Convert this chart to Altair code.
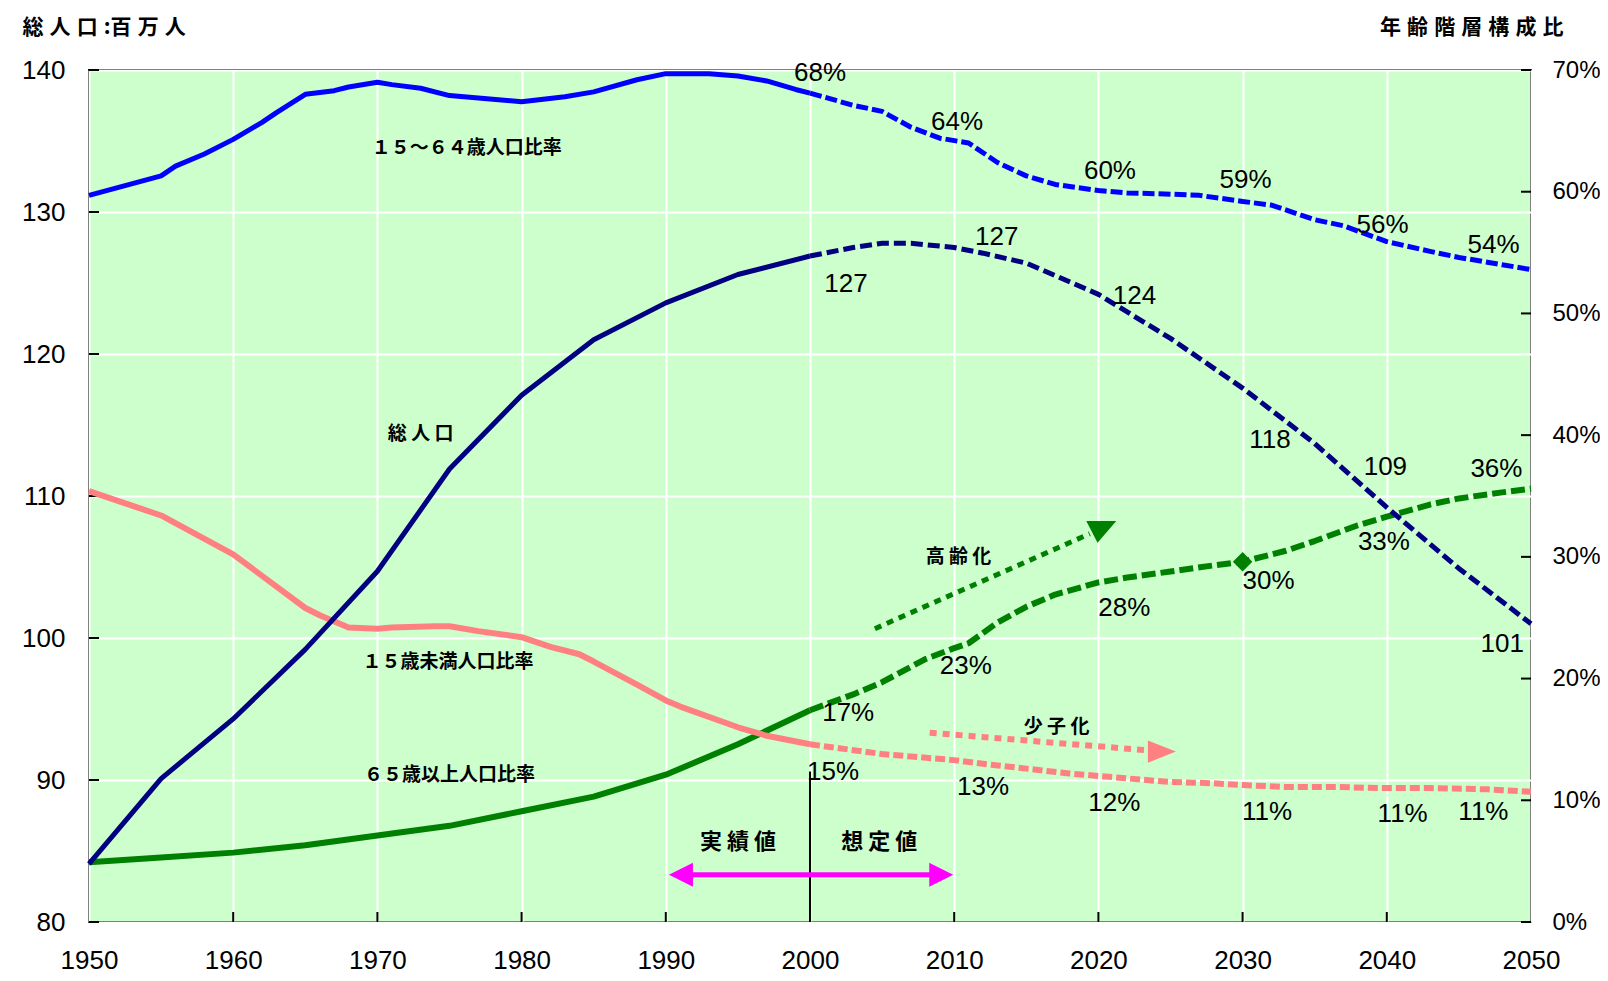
import altair as alt
import pandas as pd

# ---------------- data ----------------
# total population (millions) – actual
pop_act_years = [1950, 1955, 1960, 1965, 1970, 1975, 1980, 1985, 1990, 1995, 2000]
pop_act = [84.1, 90.1, 94.3, 99.2, 104.7, 111.9, 117.1, 121.0, 123.6, 125.6, 126.9]
# total population – projection
pop_proj_years = [2000, 2003, 2005, 2007, 2010, 2012, 2015, 2020, 2025, 2030, 2035, 2040, 2045, 2050]
pop_proj = [126.9, 127.5, 127.8, 127.8, 127.5, 127.1, 126.4, 124.2, 121.1, 117.6, 113.7, 109.2, 104.9, 101.0]

# 15-64 share (%)
wk_act_years = [1950, 1955, 1956, 1958, 1960, 1962, 1963, 1965, 1967, 1968, 1970, 1971, 1973, 1975,
                1977, 1978, 1980, 1983, 1985, 1988, 1990, 1993, 1995, 1997, 1999, 2000]
wk_act = [59.7, 61.3, 62.1, 63.1, 64.3, 65.7, 66.5, 68.0, 68.3, 68.6, 69.0, 68.8, 68.5, 67.9,
          67.7, 67.6, 67.4, 67.8, 68.2, 69.2, 69.7, 69.7, 69.5, 69.1, 68.4, 68.1]
wk_proj_years = [2000, 2003, 2005, 2007, 2009, 2011, 2013, 2015, 2017, 2020, 2022, 2025, 2027, 2030,
                 2032, 2035, 2037, 2040, 2043, 2045, 2048, 2050]
wk_proj = [68.1, 67.1, 66.6, 65.3, 64.4, 64.0, 62.4, 61.3, 60.6, 60.1, 59.9, 59.8, 59.7, 59.2,
           58.9, 57.7, 57.2, 55.9, 55.1, 54.6, 54.0, 53.6]

# under-15 share (%)
ch_act_years = [1950, 1955, 1960, 1965, 1966, 1968, 1970, 1971, 1974, 1975, 1977, 1980, 1982, 1984,
                1985, 1988, 1990, 1991, 1995, 1997, 2000]
ch_act = [35.4, 33.4, 30.2, 25.8, 25.2, 24.2, 24.1, 24.2, 24.3, 24.3, 23.9, 23.4, 22.6, 22.0,
          21.4, 19.5, 18.2, 17.7, 16.0, 15.3, 14.6]
ch_proj_years = [2000, 2005, 2010, 2012, 2015, 2018, 2020, 2023, 2025, 2028, 2030, 2033, 2036, 2040,
                 2043, 2047, 2050]
ch_proj = [14.6, 13.8, 13.3, 13.0, 12.6, 12.2, 12.0, 11.7, 11.5, 11.4, 11.25, 11.1, 11.1, 11.0,
           11.0, 10.9, 10.7]

# 65+ share (%)
old_act_years = [1950, 1955, 1960, 1965, 1970, 1975, 1980, 1985, 1990, 1995, 2000]
old_act = [4.9, 5.3, 5.7, 6.3, 7.1, 7.9, 9.1, 10.3, 12.1, 14.6, 17.4]
old_proj_years = [2000, 2003, 2005, 2008, 2010, 2011, 2013, 2015, 2017, 2020, 2022, 2025, 2028, 2030,
                  2033, 2035, 2038, 2040, 2043, 2045, 2048, 2050]
old_proj = [17.4, 18.7, 19.7, 21.6, 22.5, 22.9, 24.6, 25.9, 26.9, 27.9, 28.3, 28.8, 29.3, 29.6,
            30.5, 31.3, 32.6, 33.3, 34.3, 34.8, 35.3, 35.6]
diamond_year = [2030]
diamond_val = [29.6]

# value labels – total population (left axis)
lt_years = [2002.5, 2012.95, 2022.5, 2031.9, 2039.9, 2048.0]
lt_vals = [124.93, 128.26, 124.1, 113.94, 112.06, 99.6]
lt_text = ["127", "127", "124", "118", "109", "101"]

# value labels – percentages (right axis)
rt_years = [2000.7, 2010.2, 2020.8, 2030.2, 2039.7, 2047.4,
            2002.65, 2010.8, 2021.8, 2031.8, 2039.8, 2047.6,
            2001.6, 2012.0, 2021.1, 2031.7, 2041.1, 2046.7]
rt_vals = [69.75, 65.7, 61.7, 61.0, 57.3, 55.6,
           17.2, 21.0, 25.8, 28.0, 31.2, 37.2,
           12.3, 11.1, 9.8, 9.0, 8.9, 9.0]
rt_text = ["68%", "64%", "60%", "59%", "56%", "54%",
           "17%", "23%", "28%", "30%", "33%", "36%",
           "15%", "13%", "12%", "11%", "11%", "11%"]

# series names (right axis)
rn_years = [1976.2, 1974.9, 1975.0, 2010.3, 2017.1]
rn_vals = [63.6, 21.4, 12.05, 29.95, 16.05]
rn_text = ["１５～６４歳人口比率", "１５歳未満人口比率", "６５歳以上人口比率", "高 齢 化", "少 子 化"]

# names on left axis
ln_years = [1973.0, 1995.0, 2004.8]
ln_vals = [114.4, 85.65, 85.65]
ln_text = ["総 人 口", "実 績 値", "想 定 値"]
ln_size = [19, 22, 22]

# arrows
aging_years = [2004.5, 2019.4]
aging_vals = [24.1, 31.9]
aging_head = (2020.2, 32.05)
child_years = [2008.3, 2023.5]
child_vals = [15.55, 14.1]
child_head = (2024.4, 14.0)
span_years = [1991.05, 2009.1]
span_val = 83.33
divider_year = 2000
divider_vals = [90.6, 80]

x_ticks = list(range(1950, 2051, 10))
left_ticks = [80, 90, 100, 110, 120, 130, 140]
right_ticks = [0, 10, 20, 30, 40, 50, 60, 70]

# ---------------- chart ----------------
W, H = 1442, 852
NUM_FONT = "Liberation Sans"
CJK_FONT = "Noto Sans CJK JP"
BLUE, NAVY, PINK, GREEN, MAG = "#0000FF", "#000080", "#FF8080", "#008000", "#FF00FF"
SP = " \u200a"   # wide letter gap for titles

x_axis = alt.Axis(values=x_ticks, format="d", labelFont=NUM_FONT, labelFontSize=26,
                  labelColor="black", labelPadding=25, labelFlush=False, labelOverlap=False,
                  grid=True, gridColor="white", gridWidth=2, gridOpacity=1,
                  ticks=False, domain=False, title=None)
yL_axis = alt.Axis(values=left_ticks, orient="left", labelFont=NUM_FONT, labelFontSize=26,
                   labelColor="black", labelPadding=24, labelOverlap=False,
                   grid=True, gridColor="white", gridWidth=2, gridOpacity=1,
                   ticks=False, domain=False,
                   title=SP.join(["総", "人", "口", ":百", "万", "人"]), titleAngle=0,
                   titleAlign="left", titleBaseline="middle", titleX=-67, titleY=-43,
                   titleFont=CJK_FONT, titleFontSize=21, titleFontWeight="bold",
                   titleColor="black")
yR_axis = alt.Axis(values=right_ticks, orient="right", labelExpr="datum.value + '%'",
                   labelFont=NUM_FONT, labelFontSize=24, labelColor="black", labelPadding=21,
                   labelOverlap=False, grid=False, ticks=False, domain=False,
                   title=SP.join(list("年齢階層構成比")), titleAngle=0, titleAlign="right",
                   titleBaseline="middle", titleX=32, titleY=-43, titleFont=CJK_FONT,
                   titleFontSize=21, titleFontWeight="bold", titleColor="black")


def xs():
    return alt.Scale(domain=[1950, 2050], nice=False, zero=False)


def ysL():
    return alt.Scale(domain=[80, 140], nice=False, zero=False)


def ysR():
    return alt.Scale(domain=[0, 70], nice=False, zero=False)


def X():
    return alt.X("year:Q", scale=xs(), axis=x_axis)


def Y(scale):
    return alt.Y("v:Q", scale=scale(), axis=None)


def line(years, vals, color, width, scale, dash=None):
    df = pd.DataFrame({"year": years, "v": vals})
    props = dict(color=color, strokeWidth=width, strokeCap="butt", strokeJoin="round")
    if dash is not None:
        props["strokeDash"] = dash
    return alt.Chart(df).mark_line(**props).encode(x=X(), y=Y(scale))


def point(x, y, scale, shape, size, color):
    df = pd.DataFrame({"year": [x], "v": [y]})
    return alt.Chart(df).mark_point(shape=shape, size=size, filled=True, color=color,
                                    opacity=1, strokeWidth=0).encode(x=X(), y=Y(scale))


def texts(years, vals, labels, scale, font, size, weight="normal"):
    df = pd.DataFrame({"year": years, "v": vals, "t": labels})
    return alt.Chart(df).mark_text(font=font, fontSize=size, fontWeight=weight, color="black",
                                   align="center", baseline="middle").encode(
        x=X(), y=Y(scale), text="t:N")


# axes carriers + inward tick marks
bottom_ticks = alt.Chart(pd.DataFrame({"year": x_ticks[1:-1]})).mark_rule(
    color="black", strokeWidth=2).encode(
    x=X(), y=alt.value(H), y2=alt.value(H - 10))
left_tick_marks = alt.Chart(pd.DataFrame({"v": left_ticks})).mark_rule(
    color="black", strokeWidth=2).encode(
    y=alt.Y("v:Q", scale=ysL(), axis=yL_axis), x=alt.value(0), x2=alt.value(10))
right_tick_marks = alt.Chart(pd.DataFrame({"v": right_ticks})).mark_rule(
    color="black", strokeWidth=2).encode(
    y=alt.Y("v:Q", scale=ysR(), axis=yR_axis), x=alt.value(W - 10), x2=alt.value(W))

divider = alt.Chart(pd.DataFrame({"year": [divider_year], "v": [divider_vals[0]],
                                  "v2": [divider_vals[1]]})).mark_rule(
    color="black", strokeWidth=2).encode(x=X(), y=Y(ysL), y2="v2:Q")

span = alt.Chart(pd.DataFrame({"year": [span_years[0]], "year2": [span_years[1]],
                               "v": [span_val]})).mark_rule(
    color=MAG, strokeWidth=5).encode(x=X(), x2="year2:Q", y=Y(ysL))
span_l = point(span_years[0], span_val, ysL, "M1,-1L-1,0L1,1Z", 576, MAG)
span_r = point(span_years[1], span_val, ysL, "M-1,-1L1,0L-1,1Z", 576, MAG)

layers = [
    left_tick_marks, right_tick_marks, bottom_ticks,
    line(old_act_years, old_act, GREEN, 6, ysR),
    line(old_proj_years, old_proj, GREEN, 6, ysR, [14, 5]),
    line(ch_act_years, ch_act, PINK, 6, ysR),
    line(ch_proj_years, ch_proj, PINK, 6, ysR, [10, 4]),
    line(wk_act_years, wk_act, BLUE, 5, ysR),
    line(wk_proj_years, wk_proj, BLUE, 5, ysR, [12, 4]),
    point(diamond_year[0], diamond_val[0], ysR, "diamond", 380, GREEN),
    line(aging_years, aging_vals, GREEN, 5, ysR, [7, 6]),
    point(aging_head[0], aging_head[1], ysR, "M-1,-0.73L1,-0.73L-0.25,0.73Z", 900, GREEN),
    line(child_years, child_vals, PINK, 6, ysR, [7, 6]),
    point(child_head[0], child_head[1], ysR, "M-1,-0.8L1,0L-1,0.8Z", 784, PINK),
    line(pop_act_years, pop_act, NAVY, 5, ysL),
    line(pop_proj_years, pop_proj, NAVY, 5, ysL, [12, 5]),
    divider, span, span_l, span_r,
    texts(rt_years, rt_vals, rt_text, ysR, NUM_FONT, 26),
    texts(rn_years, rn_vals, rn_text, ysR, CJK_FONT, 19, "bold"),
    texts(lt_years, lt_vals, lt_text, ysL, NUM_FONT, 26),
    texts(ln_years[:1], ln_vals[:1], ln_text[:1], ysL, CJK_FONT, ln_size[0], "bold"),
    texts(ln_years[1:], ln_vals[1:], ln_text[1:], ysL, CJK_FONT, ln_size[1], "bold"),
]

chart = alt.layer(*layers).resolve_scale(y="independent").properties(
    width=W, height=H,
    autosize=alt.AutoSizeParams(type="none"),
    padding={"left": 81, "top": 62, "right": 69, "bottom": 51},
    background="white",
).configure_view(fill="#CCFFCC", stroke="black", strokeWidth=2)

chart.save("out.html", embed_options={"renderer": "svg", "actions": False})
